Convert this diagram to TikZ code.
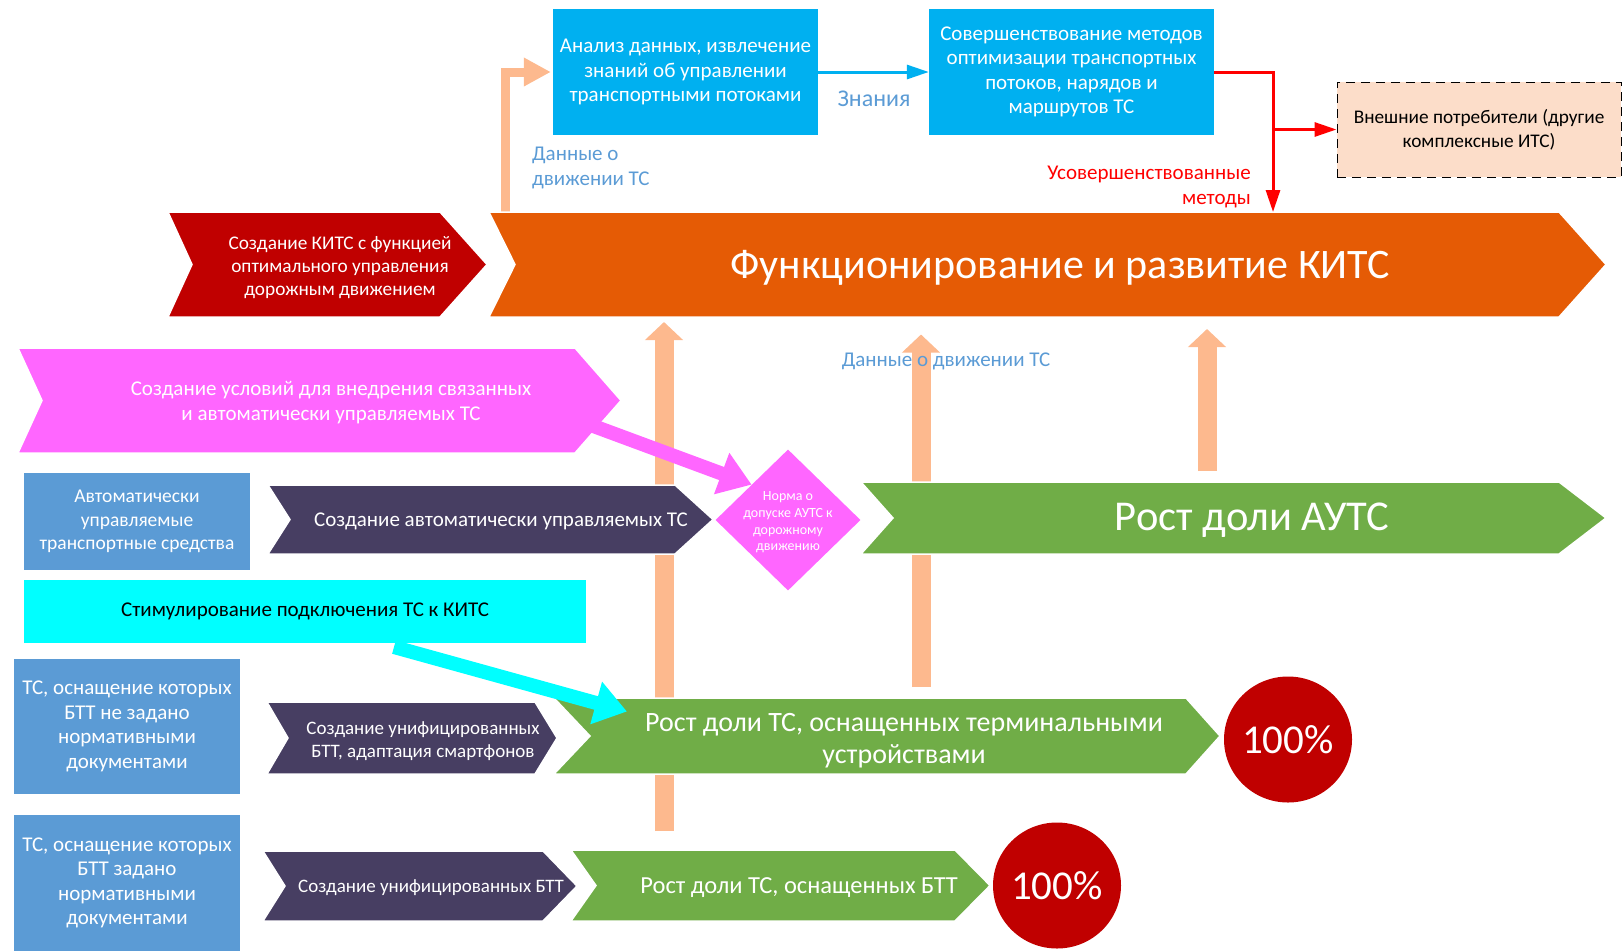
\documentclass[tikz,border=0pt]{standalone}
\usepackage{fontspec}
\setmainfont{Carlito}
\usetikzlibrary{arrows.meta, positioning, shapes.geometric, calc}

\definecolor{skyblue}{HTML}{00B0F0}
\definecolor{steelblue}{HTML}{5B9BD5}
\definecolor{plum}{HTML}{473E62}
\definecolor{leaf}{HTML}{70AD47}
\definecolor{crimson}{HTML}{C00000}
\definecolor{rust}{HTML}{E55B05}
\definecolor{orchid}{HTML}{FF66FF}
\definecolor{aqua}{HTML}{00FFFF}
\definecolor{peach}{HTML}{FDB98E}
\definecolor{cream}{HTML}{FCDDC9}
\definecolor{redline}{HTML}{FF0000}

% colour, left x, notch depth, body end, tip, top y, bottom y
\newcommand{\chevshape}[7]{%
  \fill[#1, draw=white, line width=1.5pt] (#2,#6) -- (#4,#6) -- (#5,{(#6+#7)/2}) -- (#4,#7) -- (#2,#7) -- ({#2+#3},{(#6+#7)/2}) -- cycle;}
\newcommand{\fsz}[2]{\fontsize{#1}{#2}\selectfont}

\begin{document}
\begin{tikzpicture}[
            x=1pt, y=-1pt,
            >=Latex,
            txt/.style={text=white, align=center, inner sep=0pt, yshift=-2.5pt, font=\fsz{21}{24.5}},
            card/.style={rectangle, inner sep=0pt, align=center, text=white, font=\fsz{21}{24.5}},
            bluebox/.style={card, fill=steelblue, minimum width=226pt},
            note/.style={text=steelblue, inner sep=0pt, yshift=-2pt, font=\fsz{21}{24.5}},
            peachup/.style={draw=peach, line width=19pt, -{Triangle[width=37pt, length=18pt]}},
            peachthin/.style={draw=peach, line width=9pt, -{Triangle[width=27pt, length=27pt]}},
            bluearrow/.style={draw=skyblue, line width=3pt, -{Triangle[width=14pt, length=22pt]}},
            redarrow/.style={draw=redline, line width=3pt, -{Triangle[width=14pt, length=22pt]}},
            fatarrow/.style={line width=14pt, -{Triangle[width=42pt, length=32pt]}},
            hundred/.style={ellipse, fill=crimson, inner sep=0pt, minimum width=128pt, minimum height=126pt}
        ]
\useasboundingbox (0,0) rectangle (1624,951);

% Free ends
            \coordinate (d0) at (505,214);
            \coordinate (d1) at (664,831);
            \coordinate (d2) at (921,687);
            \coordinate (d3) at (1207,471);
            \coordinate (kitsS) at (1037,317);
            \coordinate (kitsN) at (1273,212);

% Data arrows (behind the chevrons)
            \draw[peachup, shorten >=5pt] (d1) -- (d1 |- kitsS);
            \draw[peachup, shorten >=17.5pt] (d2) -- (d2 |- kitsS);
            \draw[peachup, shorten >=12pt] (d3) -- (d3 |- kitsS);

% Top boxes
            \node[card, fill=skyblue, minimum width=265pt, minimum height=126pt] (analiz) at (685.5,72) {Анализ данных, извлечение\\знаний об управлении\\транспортными потоками};
            \node[card, fill=skyblue, minimum width=285pt, minimum height=126pt] (sover) at (1071.5,72) {Совершенствование методов\\оптимизации транспортных\\потоков, нарядов и\\маршрутов ТС};
            \node[card, text=black, fill=cream, draw=black, line width=1pt, dash pattern=on 9pt off 6pt, minimum width=284pt, minimum height=95pt, font=\fsz{19.3}{24}] (ext) at (1479,129.5) {Внешние потребители (другие\\комплексные ИТС)};
            \draw[peachthin, shorten >=2pt] (d0) |- (analiz.west);

% Chevrons
            \chevshape{crimson}{168}{24}{440}{487}{212}{317}
            \chevshape{rust}{489}{26}{1559}{1606}{212}{317}
            \chevshape{orchid}{18}{24}{575}{621}{348}{453}
            \chevshape{plum}{268}{22}{675}{713}{485}{554}
            \chevshape{leaf}{861}{32}{1559}{1606}{482}{554}
            \chevshape{plum}{267}{21}{535}{557}{702}{774}
            \chevshape{leaf}{554}{36}{1186}{1220}{698}{774}
            \chevshape{plum}{263}{22}{543}{577}{851}{921}
            \chevshape{leaf}{571}{25}{955}{990}{850}{921}

% Nodes
            \node[txt, font=\fsz{19.3}{22.8}] (sozdkits) at (340,265) {Создание КИТС с функцией\\оптимального управления\\дорожным движением};
            \node[txt, font=\fsz{42}{48}] (kits) at (1060,265) {Функционирование и развитие КИТС};
            \node[txt] (uslov) at (331,400) {Создание условий для внедрения связанных\\и автоматически управляемых ТС};
            \node[bluebox, minimum height=97pt, font=\fsz{19.5}{23.3}] (auts) at (137,521.5) {Автоматически\\управляемые\\транспортные средства};
            \node[txt] (sozdauts) at (501,519) {Создание автоматически управляемых ТС};
            \node[diamond, fill=orchid, aspect=1, inner sep=0pt, minimum width=145pt, minimum height=141pt] (norma) at (788,520) {};
            \node[txt, font=\fsz{14}{16.6}] at (norma) {Норма о\\допуске АУТС к\\дорожному\\движению};
            \node[txt, font=\fsz{42.5}{48}] (rostauts) at (1252,518) {Рост доли АУТС};
            \node[card, fill=aqua, text=black, minimum width=562pt, minimum height=63pt] (stim) at (305,611.5) {Стимулирование подключения ТС к КИТС};
            \node[bluebox, minimum height=135pt] (nezad) at (127,726.5) {ТС, оснащение которых\\БТТ не задано\\нормативными\\документами};
            \node[txt, font=\fsz{19}{23}] (sozdbtt) at (423,738.5) {Создание унифицированных\\БТТ, адаптация смартфонов};
            \node[txt, font=\fsz{28}{32}] (rostterm) at (904,738) {Рост доли ТС, оснащенных терминальными\\устройствами};
            \node[hundred] (full1) at (1288,739.5) {};
            \node[txt, font=\fsz{41}{46}, yshift=2.5pt] at (full1) {100\%};
            \node[bluebox, minimum height=136pt] (zad) at (127,883) {ТС, оснащение которых\\БТТ задано\\нормативными\\документами};
            \node[txt, font=\fsz{19}{23}] (sozdbtt2) at (431,885.5) {Создание унифицированных БТТ};
            \node[txt, font=\fsz{24.5}{28}] (rostbtt) at (799,885.5) {Рост доли ТС, оснащенных БТТ};
            \node[hundred] (full2) at (1057,885.5) {};
            \node[txt, font=\fsz{41}{46}, yshift=2.5pt] at (full2) {100\%};

% Labels
            \node[note, align=left, anchor=west] (dannye) at (532,166) {Данные о\\движении ТС};
            \node[note, font=\fsz{24}{28}] (znan) at (874,97) {Знания};
            \node[note] (dannye2) at (946,359) {Данные о движении ТС};
            \node[text=redline, align=right, anchor=east, inner sep=0pt, yshift=-2pt, font=\fsz{21}{25}] (usov) at (1251,184.5) {Усовершенствованные\\методы};

% Edges
            \draw[bluearrow] (analiz) -- (sover);
            \draw[redarrow] (sover.east) -| (kitsN);
            \draw[redarrow] (ext.west -| kitsN) -- (ext.west);
            \draw[fatarrow, draw=orchid, fill=orchid] ([shift={(261pt,-23pt)}]uslov.center) -- (norma.north west);
            \draw[fatarrow, draw=aqua, fill=aqua] ([shift={(89pt,-35.5pt)}]stim.center) -- ($(rostterm.center)+(-277,-29)$);

        \end{tikzpicture}
\end{document}
